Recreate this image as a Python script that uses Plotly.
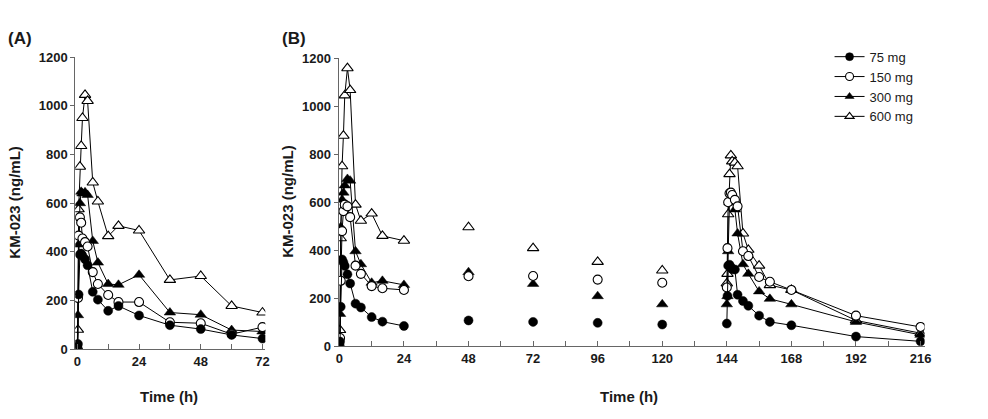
import plotly.graph_objects as go

# ---------------- data ----------------
dose_labels = ["75 mg", "150 mg", "300 mg", "600 mg"]

# Panel A: single dose, 0-72 h
times_A = [0, 0.25, 0.5, 1, 1.5, 2, 3, 4, 6, 8, 12, 16, 24, 36, 48, 60, 72]
A_75 = [10, 22, 225, 389, 393, 384, 370, 345, 236, 204, 158, 178, 139, 99, 83, 59, 44]
A_150 = [5, 211, 467, 542, 520, 455, 440, 422, 317, 268, 223, 194, 194, 111, 107, 62, 91]
A_300 = [5, 140, 430, 600, 647, 640, 645, 634, 445, 356, 268, 265, 306, 151, 142, 79, 73]
A_600 = [8, 80, 575, 750, 835, 950, 1045, 1020, 685, 607, 465, 507, 488, 285, 301, 178, 151]

# Panel B: multiple dose, 0-216 h
times_B = [0, 0.25, 0.5, 1, 1.5, 2, 3, 4, 6, 8, 12, 16, 24,
           48, 72, 96, 120,
           144, 144.25, 144.5, 145, 145.5, 146, 147, 148, 150, 152, 156, 160, 168, 192, 216]
B_75 = [0, 20, 165, 362, 350, 335, 300, 262, 178, 162, 122, 103, 85,
        108, 102, 98, 91,
        95, 210, 336, 340, 330, 322, 320, 215, 189, 169, 128, 102, 88, 41, 21]
B_150 = [5, 35, 273, 480, 563, 590, 583, 538, 336, 302, 251, 242, 235,
         292, 293, 278, 265,
         245, 409, 600, 637, 640, 630, 610, 583, 396, 376, 289, 269, 235, 128, 81]
B_300 = [0, 135, 496, 610, 640, 670, 697, 690, 396, 342, 265, 273, 256,
         309, 260, 209, 175,
         175, 209, 396, 600, 617, 600, 570, 470, 342, 302, 229, 198, 175, 102, 48]
B_600 = [0, 68, 450, 750, 877, 1045, 1158, 1067, 590, 523, 553, 460, 440,
         496, 409, 352, 316,
         262, 302, 550, 717, 795, 770, 765, 750, 470, 402, 336, 255, 235, 108, 55]

xticks_A = [0, 24, 48, 72]
xticks_B = [0, 24, 48, 72, 96, 120, 144, 168, 192, 216]
yticks = [0, 200, 400, 600, 800, 1000, 1200]

# ---------------- styles ----------------
symbols = ["circle", "circle", "triangle-up", "triangle-up"]
fills = ["black", "white", "black", "white"]
sizes = [9, 9, 10, 10]

def marker_for(i, size=None):
    return dict(symbol=symbols[i], size=size or sizes[i], color=fills[i],
                line=dict(color="black", width=1.1 if fills[i] == "white" else 0.5))

fig = go.Figure()
A_series = [A_75, A_150, A_300, A_600]
B_series = [B_75, B_150, B_300, B_600]

order = [3, 2, 1, 0]
for i in order:
    fig.add_trace(go.Scatter(x=times_A, y=A_series[i], mode="lines+markers",
                             line=dict(color="black", width=1), marker=marker_for(i),
                             xaxis="x", yaxis="y", showlegend=False, name=dose_labels[i]))
    segs = [
        ([t for t in times_B if t <= 24], "lines+markers"),
        ([t for t in times_B if 24 < t < 144], "markers"),
        ([t for t in times_B if t >= 144], "lines+markers"),
    ]
    for ts, mode in segs:
        ys = [B_series[i][times_B.index(t)] for t in ts]
        fig.add_trace(go.Scatter(x=ts, y=ys, mode=mode,
                                 line=dict(color="black", width=1), marker=marker_for(i),
                                 xaxis="x2", yaxis="y2", showlegend=False,
                                 name=dose_labels[i]))

for i in range(4):
    fig.add_trace(go.Scatter(x=[None], y=[None], mode="lines+markers",
                             line=dict(color="black", width=1), marker=marker_for(i, 8),
                             xaxis="x2", yaxis="y2", showlegend=True, name=dose_labels[i]))

W, H = 988, 419
FONT = "Liberation Sans, Arial, sans-serif"
tickfont = dict(family=FONT, size=13, color="#1a1a1a", weight="bold")

def px_x(p):
    return p / W

def px_y(p):
    return 1 - p / H

axis_common = dict(showgrid=False, zeroline=False, showline=True, linecolor="#666", linewidth=1,
                   tickcolor="#666", tickfont=tickfont, mirror=False)

fig.update_layout(
    width=W, height=H, margin=dict(l=0, r=0, t=0, b=0),
    paper_bgcolor="white", plot_bgcolor="white",
    font=dict(family=FONT, color="#1a1a1a"),
    xaxis=dict(domain=[px_x(73), px_x(265)], range=[-0.8, 73.1], anchor="y",
               tickvals=xticks_A, ticks="inside", ticklen=5, tickwidth=1,
               minor=dict(dtick=12, tick0=0, ticks="inside", ticklen=5, tickcolor="#666"),
               **axis_common),
    yaxis=dict(domain=[px_y(355), px_y(52)], range=[0, 1200], anchor="x",
               tickvals=yticks, ticks="outside", ticklen=4, tickwidth=1, **axis_common),
    xaxis2=dict(domain=[px_x(339), px_x(931)], range=[-0.3, 217.5], anchor="y2",
                tickvals=xticks_B, ticks="inside", ticklen=5, tickwidth=1,
                minor=dict(dtick=12, tick0=0, ticks="inside", ticklen=5, tickcolor="#666"),
                **axis_common),
    yaxis2=dict(domain=[px_y(352), px_y(53)], range=[0, 1200], anchor="x2",
                tickvals=yticks, ticks="outside", ticklen=4, tickwidth=1, **axis_common),
    legend=dict(x=px_x(835), y=px_y(36), xanchor="left", yanchor="top",
                bgcolor="rgba(0,0,0,0)", font=dict(family=FONT, size=13, color="#1a1a1a"),
                tracegroupgap=0, itemwidth=30),
)

title_font = dict(family=FONT, size=15, color="#1a1a1a", weight="bold")
lab_font = dict(family=FONT, size=17, color="#1a1a1a", weight="bold")
annots = [
    dict(text="(A)", x=px_x(17), y=px_y(33), font=lab_font),
    dict(text="(B)", x=px_x(294), y=px_y(33), font=lab_font),
    dict(text="Time (h)", x=px_x(168), y=px_y(404), font=title_font),
    dict(text="Time (h)", x=px_x(632), y=px_y(404), font=title_font),
    dict(text="KM-023 (ng/mL)", x=px_x(12), y=px_y(202), textangle=-90, font=title_font),
    dict(text="KM-023 (ng/mL)", x=px_x(288), y=px_y(202), textangle=-90, font=title_font),
]
for a in annots:
    fig.add_annotation(xref="paper", yref="paper", showarrow=False, xanchor="center", yanchor="middle", **a)

fig.write_html("out.html")
